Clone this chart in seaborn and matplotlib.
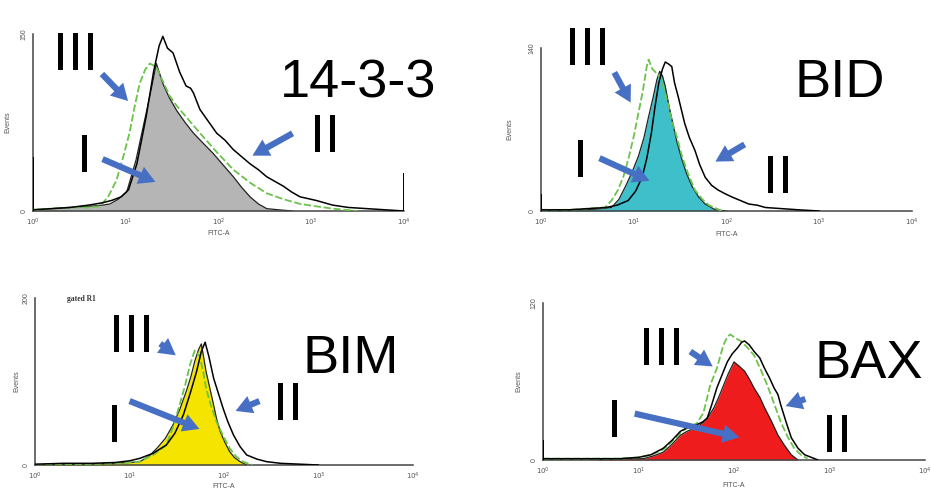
import numpy as np
import matplotlib
matplotlib.use("Agg")
import matplotlib.pyplot as plt
import seaborn as sns
from matplotlib import font_manager

# ---------------------------------------------------------------
# Data: histogram outlines.
# x = decade position (log10 of FITC-A), y = event counts
# I = filled control, II = black line, III = green dashed line
# ---------------------------------------------------------------

# 14-3-3
p1_ymax = 150
p1_i_logx = [0.0, 0.2, 0.4, 0.6, 0.75, 0.83, 0.92, 1.01, 1.11, 1.22, 1.28, 1.33, 1.40,
             1.47, 1.55, 1.64, 1.73, 1.84, 1.94, 2.05, 2.16, 2.25, 2.34, 2.43, 2.52, 2.65, 2.8]
p1_i_counts = [1, 2, 3, 4, 5, 6, 10, 16, 43, 83, 105, 125, 108,
               96, 85, 75, 66, 57, 49, 39, 29, 20, 12, 6, 2, 1, 0]
p1_ii_logx = [0.0, 0.2, 0.4, 0.6, 0.75, 0.85, 0.95, 1.03, 1.12, 1.22, 1.30, 1.36, 1.40,
              1.45, 1.51, 1.58, 1.65, 1.70, 1.73, 1.80, 1.89, 1.98, 2.07, 2.16, 2.25,
              2.34, 2.43, 2.52, 2.61, 2.70, 2.79, 2.88, 3.05, 3.23, 3.4, 3.6, 3.8, 4.0]
p1_ii_counts = [1, 2, 3, 5, 7, 9, 12, 18, 40, 80, 118, 140, 148,
                138, 134, 118, 106, 104, 100, 86, 76, 66, 60, 52, 46,
                40, 35, 29, 25, 21, 16, 12, 9, 5, 3, 2, 1, 0]
p1_iii_logx = [0.0, 0.2, 0.4, 0.6, 0.72, 0.81, 0.90, 0.97, 1.04, 1.10, 1.15, 1.21, 1.26,
               1.33, 1.40, 1.47, 1.55, 1.67, 1.80, 1.98, 2.16, 2.34, 2.52, 2.70, 2.88,
               3.05, 3.23, 3.5]
p1_iii_counts = [1, 2, 3, 3, 4, 12, 26, 45, 66, 90, 108, 120, 125,
                 122, 110, 98, 89, 78, 66, 50, 35, 24, 15, 10, 6,
                 4, 2, 0]
p1_spike_logx = [0.0, 4.0]
p1_spike_counts = [46, 32]

# BID
p2_ymax = 140
p2_i_logx = [0.0, 0.3, 0.5, 0.65, 0.76, 0.84, 0.91, 0.98, 1.05, 1.11, 1.16, 1.21, 1.25,
             1.28, 1.31, 1.34, 1.38, 1.43, 1.47, 1.52, 1.57, 1.63, 1.70, 1.77, 1.88, 2.0]
p2_i_counts = [0, 1, 1, 2, 3, 10, 21, 33, 47, 63, 81, 98, 113,
               120, 116, 107, 90, 72, 58, 44, 32, 21, 12, 6, 1, 0]
p2_ii_logx = [0.0, 0.3, 0.5, 0.7, 0.82, 0.94, 1.02, 1.09, 1.14, 1.19, 1.23, 1.27, 1.31,
              1.34, 1.38, 1.41, 1.44, 1.48, 1.55, 1.60, 1.66, 1.71, 1.77, 1.84, 1.91,
              1.98, 2.06, 2.15, 2.24, 2.33, 2.42, 2.6, 2.78, 3.0]
p2_ii_counts = [1, 1, 2, 3, 5, 9, 17, 29, 45, 67, 90, 110, 122,
                128, 126, 124, 110, 98, 75, 63, 52, 40, 29, 22, 18,
                15, 12, 9, 6, 5, 3, 2, 1, 0]
p2_iii_logx = [0.0, 0.3, 0.5, 0.69, 0.76, 0.83, 0.89, 0.94, 1.0, 1.05, 1.10, 1.14, 1.16,
               1.20, 1.25, 1.30, 1.36, 1.41, 1.47, 1.52, 1.59, 1.66, 1.74, 1.81, 1.95]
p2_iii_counts = [1, 1, 2, 3, 9, 18, 30, 44, 64, 84, 104, 124, 130,
                 122, 118, 113, 95, 78, 62, 47, 31, 18, 10, 5, 0]
p2_spike_logx = [0.0]
p2_spike_counts = [15]

# BIM
p3_ymax = 200
p3_i_logx = [0.0, 0.5, 0.8, 1.0, 1.11, 1.20, 1.29, 1.38, 1.46, 1.53, 1.60, 1.65, 1.69,
             1.73, 1.76, 1.78, 1.81, 1.85, 1.89, 1.92, 1.96, 2.01, 2.06, 2.11, 2.17, 2.24]
p3_i_counts = [0, 1, 2, 3, 4, 10, 20, 32, 48, 66, 88, 106, 124,
               138, 145, 132, 112, 92, 72, 56, 40, 27, 16, 9, 4, 0]
p3_ii_logx = [0.0, 0.3, 0.6, 0.85, 1.0, 1.11, 1.25, 1.39, 1.48, 1.57, 1.64, 1.71, 1.76,
              1.80, 1.84, 1.89, 1.94, 1.99, 2.04, 2.10, 2.17, 2.24, 2.35, 2.45, 2.6, 2.8, 3.0]
p3_ii_counts = [1, 2, 2, 3, 5, 8, 14, 24, 38, 60, 85, 112, 136,
                147, 130, 104, 86, 68, 52, 36, 22, 12, 7, 4, 2, 1, 0]
p3_iii_logx = [0.0, 0.5, 0.9, 1.1, 1.25, 1.39, 1.46, 1.53, 1.59, 1.64, 1.69, 1.74, 1.78,
               1.81, 1.86, 1.92, 1.99, 2.06, 2.13, 2.20, 2.3]
p3_iii_counts = [0, 1, 2, 4, 12, 24, 45, 72, 96, 120, 137, 131, 112,
                 92, 72, 52, 35, 20, 10, 4, 0]
p3_spike_logx = []
p3_spike_counts = []

# BAX
p4_ymax = 120
p4_i_logx = [0.0, 0.5, 0.8, 1.05, 1.15, 1.26, 1.35, 1.44, 1.51, 1.58, 1.63, 1.68, 1.74,
             1.79, 1.84, 1.89, 1.94, 2.0, 2.05, 2.11, 2.16, 2.21, 2.27, 2.32, 2.39,
             2.46, 2.53, 2.60, 2.67]
p4_i_counts = [0, 0, 1, 1, 3, 6, 12, 19, 22, 24, 26, 29, 34,
               40, 48, 57, 66, 75, 72, 68, 62, 55, 48, 40, 30,
               19, 11, 4, 0]
p4_ii_logx = [0.0, 0.5, 0.8, 1.0, 1.13, 1.26, 1.35, 1.44, 1.52, 1.61, 1.67, 1.72, 1.77,
              1.82, 1.88, 1.93, 1.98, 2.04, 2.08, 2.11, 2.16, 2.21, 2.27, 2.32, 2.37,
              2.42, 2.46, 2.49, 2.55, 2.60, 2.67, 2.74, 2.81, 2.88]
p4_ii_counts = [1, 1, 1, 2, 4, 9, 15, 22, 25, 27, 29, 32, 43,
                55, 66, 75, 81, 86, 90, 91, 88, 83, 78, 70, 63,
                55, 50, 42, 28, 17, 9, 4, 2, 0]
p4_iii_logx = [0.0, 0.5, 0.8, 1.0, 1.13, 1.26, 1.35, 1.44, 1.52, 1.61, 1.68, 1.75, 1.82,
               1.89, 1.93, 1.96, 2.02, 2.07, 2.14, 2.21, 2.28, 2.35, 2.42, 2.49, 2.56,
               2.63, 2.70, 2.77]
p4_iii_counts = [1, 1, 1, 2, 4, 8, 14, 21, 25, 28, 36, 57, 70,
                 88, 94, 96, 93, 91, 86, 80, 69, 57, 43, 29, 18,
                 9, 4, 1]
p4_spike_logx = [0.0]
p4_spike_counts = [15]

decade_labels = ["$10^{0}$", "$10^{1}$", "$10^{2}$", "$10^{3}$", "$10^{4}$"]

# ---------------------------------------------------------------
# Styling / layout
# ---------------------------------------------------------------
sns.set_style("white")
installed = {f.name for f in font_manager.fontManager.ttflist}
if "Liberation Sans Narrow" in installed:
    big_family, big_size = "Liberation Sans Narrow", 44
else:
    big_family, big_size = "Liberation Sans", 39
plt.rcParams["font.family"] = ["Liberation Sans", "DejaVu Sans"]

W, H = 931, 490
fig = plt.figure(figsize=(W / 100, H / 100), dpi=100)

ARROW_BLUE = "#4770c4"
GREEN = "#6cc24a"


def fx(px):
    return px / W


def fy(py):
    return 1 - py / H


def make_axes(left, top, right, bottom):
    return fig.add_axes([fx(left), fy(bottom), (right - left) / W, (bottom - top) / H])


def draw_panel(ax, ymax, i_x, i_y, fill_color, ii_x, ii_y, iii_x, iii_y, sp_x, sp_y,
               ylab_x, xlab_off):
    i_x = 10 ** np.array(i_x)
    ax.fill_between(i_x, i_y, color=fill_color, lw=0, zorder=1)
    sns.lineplot(x=i_x, y=i_y, ax=ax, color="#222222", lw=0.9, sort=False, zorder=2)
    sns.lineplot(x=10 ** np.array(iii_x), y=iii_y, ax=ax, color=GREEN, lw=1.3,
                 linestyle=(0, (4, 1.5)), sort=False, zorder=3)
    sns.lineplot(x=10 ** np.array(ii_x), y=ii_y, ax=ax, color="black", lw=1.1,
                 sort=False, zorder=4)
    if sp_x:
        ax.vlines(10 ** np.array(sp_x), 0, sp_y, color="black", lw=1.4, zorder=5)

    ax.set_xscale("log")
    ax.set_xlim(1, 1e4)
    ax.set_ylim(0, ymax)
    ax.set_xticks([1, 10, 100, 1000, 10000])
    ax.set_xticklabels(decade_labels)
    ax.xaxis.set_minor_locator(matplotlib.ticker.NullLocator())
    ax.set_yticks(np.linspace(0, ymax, 5))
    ax.set_yticklabels(["0", "", "", "", str(ymax)], rotation=90, va="center")
    ax.tick_params(axis="both", labelsize=5, colors="#555555", length=2.5, width=0.7,
                   pad=1.5)
    ax.tick_params(axis="both", direction="out")
    for side in ("top", "right"):
        ax.spines[side].set_visible(False)
    for side in ("left", "bottom"):
        ax.spines[side].set_color("#444444")
        ax.spines[side].set_linewidth(1.1)
    ax.set_xlabel("FITC-A", fontsize=5, color="#555555")
    ax.set_ylabel("Events", fontsize=5, color="#555555")
    ax.yaxis.set_label_coords(ylab_x, 0.5)
    ax.xaxis.set_label_coords(0.5, xlab_off)
    ax.set_facecolor("none")


ax1 = make_axes(33, 34, 404, 211)
ax2 = make_axes(541, 48, 912, 211)
ax3 = make_axes(35, 298, 413, 465)
ax4 = make_axes(543, 303, 925, 460)

draw_panel(ax1, p1_ymax, p1_i_logx, p1_i_counts, "#b5b5b5", p1_ii_logx, p1_ii_counts,
           p1_iii_logx, p1_iii_counts, p1_spike_logx, p1_spike_counts, -0.057, -0.11)
draw_panel(ax2, p2_ymax, p2_i_logx, p2_i_counts, "#3fbfca", p2_ii_logx, p2_ii_counts,
           p2_iii_logx, p2_iii_counts, p2_spike_logx, p2_spike_counts, -0.075, -0.12)
draw_panel(ax3, p3_ymax, p3_i_logx, p3_i_counts, "#f4e400", p3_ii_logx, p3_ii_counts,
           p3_iii_logx, p3_iii_counts, p3_spike_logx, p3_spike_counts, -0.04, -0.105)
draw_panel(ax4, p4_ymax, p4_i_logx, p4_i_counts, "#ee1c1c", p4_ii_logx, p4_ii_counts,
           p4_iii_logx, p4_iii_counts, p4_spike_logx, p4_spike_counts, -0.055, -0.14)

# big labels: (text, center x px, baseline y px)
labels = [
    ("III", 76, 70), ("I", 85, 172), ("14-3-3", 358, 97), ("II", 325, 152),
    ("III", 588, 65), ("I", 580, 177), ("BID", 840, 97), ("II", 778, 193),
    ("III", 131, 352), ("I", 115, 442), ("BIM", 351, 373), ("II", 288, 420),
    ("III", 662, 365), ("I", 615, 437), ("BAX", 869, 378), ("II", 837, 452),
]
for txt, x, y in labels:
    fig.text(fx(x), fy(y), txt, ha="center", va="baseline", fontsize=big_size,
             family=big_family, color="black", zorder=10)

# arrows: (tail px, head px)
arrows = [
    ((100, 72), (130, 103)), ((100, 158), (158, 183)), ((295, 132), (250, 157)),
    ((613, 70), (632, 105)), ((597, 157), (652, 182)), ((747, 143), (713, 163)),
    ((158, 342), (178, 357)), ((127, 400), (202, 430)), ((262, 400), (233, 412)),
    ((688, 350), (715, 368)), ((632, 413), (742, 438)), ((808, 398), (783, 407)),
]
for (x0, y0), (x1, y1) in arrows:
    fig.add_artist(matplotlib.patches.FancyArrowPatch(
        (fx(x0), fy(y0)), (fx(x1), fy(y1)), transform=fig.transFigure,
        arrowstyle="simple,tail_width=0.32,head_width=0.95,head_length=0.85",
        mutation_scale=14, color=ARROW_BLUE, lw=0, zorder=11))

fig.text(fx(67), fy(301), "gated R1", fontsize=5.5, family="Liberation Serif",
         weight="bold", color="#333333")

fig.savefig("out.png", dpi=100, facecolor="white")
